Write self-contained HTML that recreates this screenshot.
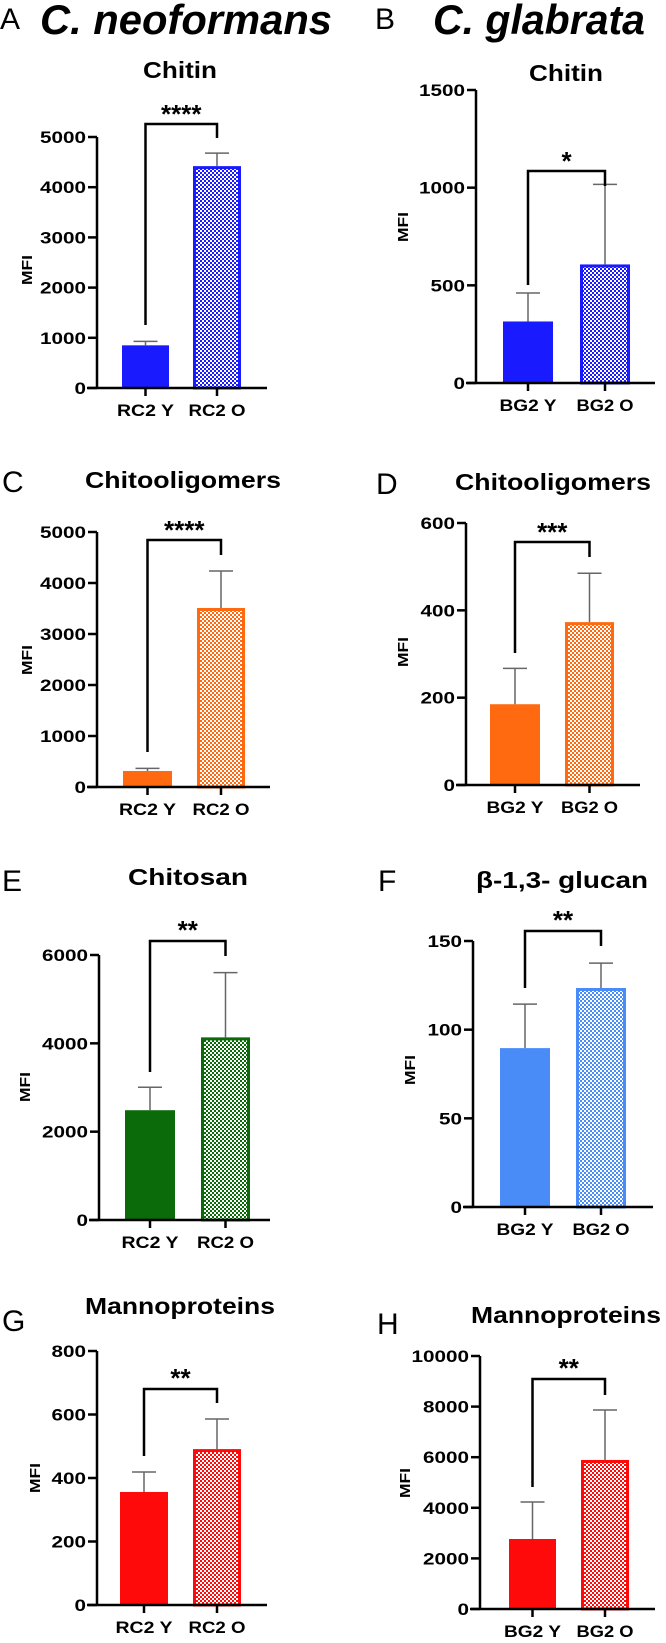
<!DOCTYPE html>
<html><head><meta charset="utf-8"><style>
html,body{margin:0;padding:0;background:#fff;}
svg{display:block;font-family:"Liberation Sans",Arial,sans-serif;}
</style></head><body>
<svg id="fig" width="666" height="1643" viewBox="0 0 666 1643" xmlns="http://www.w3.org/2000/svg">
<defs>
<pattern id="chk-blue" width="4" height="4" patternUnits="userSpaceOnUse"><rect width="4" height="4" fill="#fff"/><rect width="2" height="2" fill="#1a1aff"/><rect x="2" y="2" width="2" height="2" fill="#1a1aff"/></pattern>
<pattern id="chk-orange" width="4" height="4" patternUnits="userSpaceOnUse"><rect width="4" height="4" fill="#fff"/><rect width="2" height="2" fill="#ff6a10"/><rect x="2" y="2" width="2" height="2" fill="#ff6a10"/></pattern>
<pattern id="chk-green" width="4" height="4" patternUnits="userSpaceOnUse"><rect width="4" height="4" fill="#fff"/><rect width="2" height="2" fill="#0b6b0b"/><rect x="2" y="2" width="2" height="2" fill="#0b6b0b"/></pattern>
<pattern id="chk-lblue" width="4" height="4" patternUnits="userSpaceOnUse"><rect width="4" height="4" fill="#fff"/><rect width="2" height="2" fill="#4a8cf7"/><rect x="2" y="2" width="2" height="2" fill="#4a8cf7"/></pattern>
<pattern id="chk-red" width="4" height="4" patternUnits="userSpaceOnUse"><rect width="4" height="4" fill="#fff"/><rect width="2" height="2" fill="#ff0a0a"/><rect x="2" y="2" width="2" height="2" fill="#ff0a0a"/></pattern>
</defs>
<text x="0" y="29" font-size="30">A</text>
<text x="40" y="34" font-size="42" font-weight="bold" font-style="italic" textLength="292" lengthAdjust="spacingAndGlyphs">C. neoformans</text>
<text x="375" y="29" font-size="30">B</text>
<text x="433" y="34" font-size="42" font-weight="bold" font-style="italic" textLength="212" lengthAdjust="spacingAndGlyphs">C. glabrata</text>
</svg>
<script>
// ---- data ----
const categoriesCn = ["RC2 Y", "RC2 O"];
const categoriesCg = ["BG2 Y", "BG2 O"];
const chitinCnMean = [850, 4420];
const chitinCnSD = [80, 260];
const chitinCnTicks = [0, 1000, 2000, 3000, 4000, 5000];
const chitinCgMean = [315, 607];
const chitinCgSD = [146, 410];
const chitinCgTicks = [0, 500, 1000, 1500];
const chitoCnMean = [314, 3510];
const chitoCnSD = [50, 725];
const chitoCnTicks = [0, 1000, 2000, 3000, 4000, 5000];
const chitoCgMean = [185, 373];
const chitoCgSD = [82, 112];
const chitoCgTicks = [0, 200, 400, 600];
const chitosanCnMean = [2486, 4135];
const chitosanCnSD = [519, 1465];
const chitosanCnTicks = [0, 2000, 4000, 6000];
const glucanCgMean = [89.6, 123.5];
const glucanCgSD = [24.8, 14];
const glucanCgTicks = [0, 50, 100, 150];
const mannoCnMean = [356, 491];
const mannoCnSD = [63, 95];
const mannoCnTicks = [0, 200, 400, 600, 800];
const mannoCgMean = [2767, 5890];
const mannoCgSD = [1463, 1975];
const mannoCgTicks = [0, 2000, 4000, 6000, 8000, 10000];
const starsLabels = ["****", "*", "****", "***", "**", "**", "**", "**"];

// ---- layout (pixels) ----
const panels = [
 {id:"a", title:"Chitin", tw:74, letter:"", cats:categoriesCn, mean:chitinCnMean, sd:chitinCnSD, ticks:chitinCnTicks, stars:starsLabels[0],
  ax:97, y0:388, yTop:137, xEnd:267, bars:[[122,169],[193,241]], color:"#1a1aff", pat:"chk-blue",
  br:[124,325,138], starY:114, titleX:180, titleY:78, letterX:0, letterY:0, mfiX:27, mfiY:270},
 {id:"b", title:"Chitin", tw:74, letter:"", cats:categoriesCg, mean:chitinCgMean, sd:chitinCgSD, ticks:chitinCgTicks, stars:starsLabels[1],
  ax:476, y0:383, yTop:90, xEnd:655, bars:[[503,553],[580,630]], color:"#1a1aff", pat:"chk-blue",
  br:[171,285,186], starY:161, titleX:566, titleY:81, letterX:0, letterY:0, mfiX:403, mfiY:227},
 {id:"c", title:"Chitooligomers", tw:196, letter:"C", cats:categoriesCn, mean:chitoCnMean, sd:chitoCnSD, ticks:chitoCnTicks, stars:starsLabels[2],
  ax:97, y0:787, yTop:532, xEnd:270, bars:[[123,172],[197,245]], color:"#ff6a10", pat:"chk-orange",
  br:[540,752,555], starY:530, titleX:183, titleY:488, letterX:2, letterY:492, mfiX:27, mfiY:660},
 {id:"d", title:"Chitooligomers", tw:196, letter:"D", cats:categoriesCg, mean:chitoCgMean, sd:chitoCgSD, ticks:chitoCgTicks, stars:starsLabels[3],
  ax:466, y0:785, yTop:523, xEnd:640, bars:[[490,540],[565,614]], color:"#ff6a10", pat:"chk-orange",
  br:[542,653,557], starY:532, titleX:553, titleY:490, letterX:376, letterY:494, mfiX:403, mfiY:652},
 {id:"e", title:"Chitosan", tw:120, letter:"E", cats:categoriesCn, mean:chitosanCnMean, sd:chitosanCnSD, ticks:chitosanCnTicks, stars:starsLabels[4],
  ax:99, y0:1220, yTop:955, xEnd:270, bars:[[125,175],[201,250]], color:"#0b6b0b", pat:"chk-green",
  br:[941,1072,956], starY:930, titleX:188, titleY:885, letterX:2, letterY:891, mfiX:25, mfiY:1087},
 {id:"f", title:"β-1,3- glucan", tw:172, letter:"F", cats:categoriesCg, mean:glucanCgMean, sd:glucanCgSD, ticks:glucanCgTicks, stars:starsLabels[5],
  ax:473, y0:1207, yTop:941, xEnd:653, bars:[[500,550],[576,626]], color:"#4a8cf7", pat:"chk-lblue",
  br:[931,988,946], starY:920, titleX:562, titleY:888, letterX:378, letterY:891, mfiX:410, mfiY:1070},
 {id:"g", title:"Mannoproteins", tw:190, letter:"G", cats:categoriesCn, mean:mannoCnMean, sd:mannoCnSD, ticks:mannoCnTicks, stars:starsLabels[6],
  ax:97, y0:1605, yTop:1351, xEnd:267, bars:[[120,168],[193,241]], color:"#ff0a0a", pat:"chk-red",
  br:[1389,1456,1403], starY:1378, titleX:180, titleY:1314, letterX:2, letterY:1331, mfiX:35, mfiY:1478},
 {id:"h", title:"Mannoproteins", tw:190, letter:"H", cats:categoriesCg, mean:mannoCgMean, sd:mannoCgSD, ticks:mannoCgTicks, stars:starsLabels[7],
  ax:480, y0:1609, yTop:1356, xEnd:655, bars:[[509,556],[581,629]], color:"#ff0a0a", pat:"chk-red",
  br:[1379,1487,1395], starY:1368, titleX:566, titleY:1323, letterX:377, letterY:1334, mfiX:405, mfiY:1483}
];

const NS = "http://www.w3.org/2000/svg";
const svg = document.getElementById("fig");
function mk(tag, attrs, parent, txt) {
  const e = document.createElementNS(NS, tag);
  for (const k in attrs) e.setAttribute(k, attrs[k]);
  if (txt !== undefined) e.textContent = txt;
  parent.appendChild(e);
  return e;
}
function widen(el, len) {
  el.setAttribute("textLength", len);
  el.setAttribute("lengthAdjust", "spacingAndGlyphs");
}

panels.forEach(p => {
  const g = mk("g", {}, svg);
  
  
  const maxT = p.ticks[p.ticks.length - 1];
  const y = v => p.y0 - (v / maxT) * (p.y0 - p.yTop);

  if (p.letter) {
    const l = mk("text", {x: p.letterX, y: p.letterY, "font-size": 30}, g, p.letter);
    
    
  }
  const t = mk("text", {x: p.titleX, y: p.titleY, "font-size": 23, "font-weight": "bold", "text-anchor": "middle"}, g, p.title);
  
  
  widen(t, p.tw);

  const m = mk("text", {x: p.mfiX, y: p.mfiY, "font-size": 15, "font-weight": "bold", "text-anchor": "middle",
    transform: "rotate(-90 " + p.mfiX + " " + p.mfiY + ")", dy: "5"}, g, "MFI");
  
  
  widen(m, 30);

  // bars
  p.mean.forEach((v, i) => {
    const [x1, x2] = p.bars[i];
    const cx = (x1 + x2) / 2;
    const top = y(v);
    let r;
    if (i === 0) {
      r = mk("rect", {x: x1, y: top, width: x2 - x1, height: p.y0 - top, fill: p.color}, g);
    } else {
      r = mk("rect", {x: x1 + 1.5, y: top + 1.5, width: x2 - x1 - 3, height: p.y0 - top - 1.5, fill: "url(#" + p.pat + ")", stroke: p.color, "stroke-width": 3}, g);
    }
    
    
    const et = y(v + p.sd[i]);
    const e1 = mk("line", {x1: cx, x2: cx, y1: top, y2: et, stroke: "#666", "stroke-width": 1.5}, g);
    
    
    const e2 = mk("line", {x1: cx - 12, x2: cx + 12, y1: et, y2: et, stroke: "#666", "stroke-width": 1.5}, g);
    
    
    const tk = mk("line", {x1: cx, x2: cx, y1: p.y0, y2: p.y0 + 8, stroke: "#000", "stroke-width": 2.5}, g);
    
    
    const cl = mk("text", {x: cx, y: p.y0 + 28, "font-size": 17, "font-weight": "bold", "text-anchor": "middle"}, g, p.cats[i]);
    
    
    widen(cl, 57);
  });

  // axes
  const ya = mk("line", {x1: p.ax, x2: p.ax, y1: p.yTop, y2: p.y0 + 1, stroke: "#000", "stroke-width": 2.5}, g);
  
  
  const xa = mk("line", {x1: p.ax - 10, x2: p.xEnd, y1: p.y0, y2: p.y0, stroke: "#000", "stroke-width": 2.5}, g);
  
  
  p.ticks.forEach(tv => {
    const ty = y(tv);
    const tl = mk("line", {x1: p.ax - 9, x2: p.ax, y1: ty, y2: ty, stroke: "#000", "stroke-width": 2.5}, g);
    
    
    const label = String(tv);
    const tx = mk("text", {x: p.ax - 11, y: ty + 6, "font-size": 17, "font-weight": "bold", "text-anchor": "end"}, g, label);
    
    
    widen(tx, label.length * 11.5);
  });

  // significance bracket
  const c1 = (p.bars[0][0] + p.bars[0][1]) / 2, c2 = (p.bars[1][0] + p.bars[1][1]) / 2;
  const b = mk("path", {d: "M" + c1 + " " + p.br[1] + " V" + p.br[0] + " H" + c2 + " V" + p.br[2], fill: "none", stroke: "#000", "stroke-width": 2.5}, g);
  
  
  const s = mk("text", {x: (c1 + c2) / 2, y: p.starY + 9, "font-size": 26, "font-weight": "bold", "text-anchor": "middle"}, g, p.stars);
  
  
});
</script>
</body></html>
